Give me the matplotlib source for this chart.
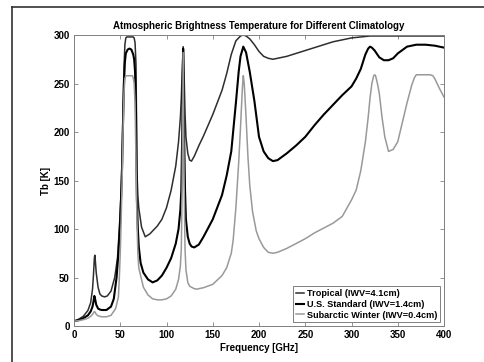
"""Atmospheric brightness temperature vs frequency for three climatologies."""
import numpy as np
import matplotlib.pyplot as plt
from matplotlib.lines import Line2D

plt.rcParams.update({
    'font.family': 'Liberation Sans',
    'font.weight': 'bold',
    'font.size': 7,
})

# Tropical (IWV=4.1cm)
freq_trop = [0, 5, 10, 15, 18, 20, 21, 22, 22.5, 23, 24, 26, 28, 30, 33, 36, 40, 44, 47, 49,
             50, 51, 52, 53, 54, 55, 56, 57, 60, 64, 65, 66, 67, 67.5, 68, 69, 70, 73, 77, 82,
             90, 95, 100, 105, 110, 113, 115, 116, 117, 118, 119, 120, 121, 123, 125, 127, 130,
             135, 140, 150, 160, 165, 170, 175, 180, 183, 186, 190, 195, 200, 205, 210, 215,
             220, 230, 240, 250, 260, 270, 280, 290, 300, 310, 320, 340, 360, 380, 400]
tb_trop = [5, 7, 10, 16, 24, 38, 52, 70, 73, 68, 55, 40, 33, 31, 30, 31, 36, 50, 70, 100,
           120, 140, 175, 225, 265, 290, 297, 298, 298, 298, 297, 292, 270, 220, 160, 135, 122, 102, 92, 95,
           103, 110, 122, 140, 165, 190, 215, 235, 265, 288, 260, 220, 195, 178, 171, 170, 175,
           186, 196, 218, 243, 260, 280, 294, 299, 300, 299, 296, 290, 283, 278, 276, 275,
           276, 278, 281, 284, 287, 290, 293, 295, 297, 298, 299, 299, 299, 299, 299]

# U.S. Standard (IWV=1.4cm)
freq_us = [0, 5, 10, 15, 18, 20, 21, 22, 23, 24, 26, 28, 30, 35, 40, 43, 46, 48, 50, 51,
           52, 53, 54, 55, 56, 58, 60, 62, 64, 65, 66, 67, 67.5, 68, 69, 70, 72, 75, 80, 85,
           90, 95, 100, 105, 110, 113, 115, 116, 117, 118, 119, 120, 121, 123, 125, 127, 130,
           135, 140, 150, 160, 165, 170, 175, 178, 180, 183, 186, 190, 195, 200, 205, 210,
           215, 220, 230, 240, 250, 260, 270, 280, 290, 300, 305, 310, 315, 318, 320, 322,
           325, 330, 335, 340, 345, 350, 360, 370, 380, 390, 400]
tb_us = [5, 6, 8, 11, 15, 20, 25, 31, 27, 22, 18, 17, 16.5, 16.5, 20, 28, 50, 75, 110, 135,
         165, 210, 250, 272, 281, 285, 286, 285, 280, 275, 262, 220, 170, 130, 100, 82, 65, 55, 48, 45,
         47, 52, 60, 70, 85, 100, 120, 140, 200, 286, 200, 140, 110, 92, 85, 82, 81,
         84, 92, 110, 135, 155, 180, 230, 262, 278, 288, 282, 262, 232, 195, 180, 173,
         170, 171, 178, 186, 195, 207, 218, 228, 238, 247, 255, 265, 280, 286, 288, 287,
         284, 277, 274, 274, 276, 281, 288, 290, 290, 289, 287]

# Subarctic Winter (IWV=0.4cm)
freq_sw = [0, 5, 10, 15, 18, 20, 21, 22, 23, 24, 26, 28, 30, 35, 40, 45, 48, 49, 50, 51,
           52, 53, 54, 55, 56, 60, 63, 64, 65, 66, 67, 68, 69, 70, 75, 80, 85, 90, 95, 100,
           105, 110, 113, 115, 116, 117, 118, 119, 120, 121, 123, 125, 130, 133, 135, 140,
           150, 160, 165, 170, 172, 175, 178, 180, 182, 183, 184, 186, 188, 190, 193, 197,
           200, 205, 210, 215, 220, 230, 240, 250, 260, 270, 280, 290, 300, 305, 310, 315,
           318, 320, 322, 324, 325, 326, 328, 330, 333, 336, 340, 345, 350, 355, 360, 365,
           368, 370, 375, 380, 385, 388, 390, 395, 400]
tb_sw = [5, 5.5, 6.5, 8, 10, 12, 13.5, 15, 14, 12, 10.5, 10, 9.5, 9.5, 11, 18, 30, 50, 75, 110,
         150, 200, 240, 255, 258, 258, 258, 256, 250, 230, 170, 110, 75, 60, 40, 32, 28, 27, 27, 28,
         31, 38, 48, 62, 80, 150, 282, 150, 80, 58, 45, 41, 38.5, 38, 38.5, 39.5,
         43, 52, 60, 75, 88, 122, 168, 205, 245, 258, 250, 215, 175, 145, 118, 98,
         90, 81, 76, 75, 76, 80, 85, 90, 96, 101, 106, 113, 130, 140, 160, 190,
         215, 235, 250, 258, 259, 258, 250, 240, 215, 195, 180, 182, 190, 210, 230, 248,
         256, 259, 259, 259, 259, 258, 255, 245, 236]

fig = plt.figure(figsize=(4.85, 3.62), dpi=100)
ax = fig.add_axes([0.1526, 0.0994, 0.7629, 0.8039])

ax.plot(freq_trop, tb_trop, color='#2e2e2e', linewidth=1.1, label='Tropical (IWV=4.1cm)')
ax.plot(freq_us, tb_us, color='black', linewidth=1.5, label='U.S. Standard (IWV=1.4cm)')
ax.plot(freq_sw, tb_sw, color='#999999', linewidth=1.1, label='Subarctic Winter (IWV=0.4cm)')

ax.set_xlim(0, 400)
ax.set_ylim(0, 300)
ax.set_xticks(np.arange(0, 401, 50))
ax.set_yticks(np.arange(0, 301, 50))
ax.tick_params(direction='in', top=True, right=True, length=3, width=0.6,
               color='#808080', labelsize=7, pad=3)
for s in ax.spines.values():
    s.set_color('#808080')
    s.set_linewidth(0.7)

ax.set_title('Atmospheric Brightness Temperature for Different Climatology',
             fontsize=7, fontweight='bold', pad=4)
ax.set_xlabel('Frequency [GHz]', fontsize=7, fontweight='bold', labelpad=2)
ax.set_ylabel('Tb [K]', fontsize=7, fontweight='bold', labelpad=2)

leg = ax.legend(loc='lower right', fontsize=6.6, handlelength=0.9, handletextpad=0.3,
                borderpad=0.3, labelspacing=0.2, fancybox=False, framealpha=1,
                borderaxespad=0.4)
leg.get_frame().set_edgecolor('#808080')
leg.get_frame().set_linewidth(0.7)

# outer frame (top and left edges of the surrounding box)
fig.add_artist(Line2D([12 / 485, 1.0], [1 - 7 / 362, 1 - 7 / 362],
                      transform=fig.transFigure, color='#333333', linewidth=1.2))
fig.add_artist(Line2D([12 / 485, 12 / 485], [0.0, 1 - 7 / 362],
                      transform=fig.transFigure, color='#333333', linewidth=1.2))

fig.savefig('out.png', dpi=100)
